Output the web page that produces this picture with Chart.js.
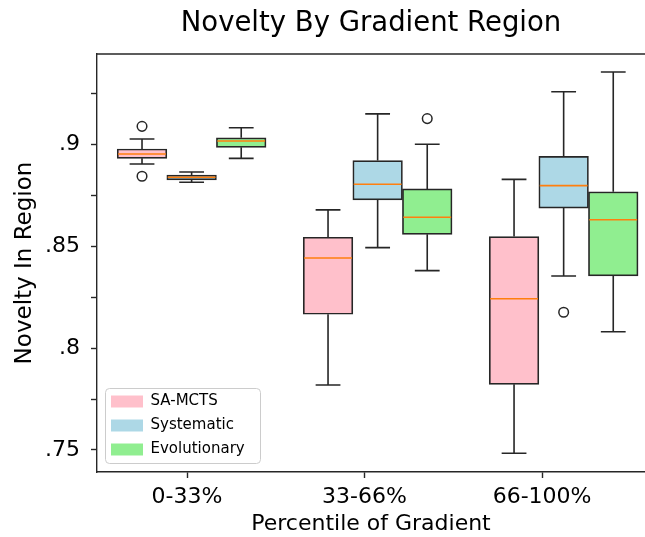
<!DOCTYPE html>
<html>
<head>
<meta charset="utf-8">
<script src="https://cdn.jsdelivr.net/npm/chart.js@4/dist/chart.umd.min.js"></script>
<style>
  html, body { margin: 0; padding: 0; background: #fff; overflow: hidden; }
  canvas { display: block; }
</style>
</head>
<body>
<canvas id="c" width="645" height="537"></canvas>
<script>
// ---- data ----
const categories = ['0-33%', '33-66%', '66-100%'];
const seriesNames = ['SA-MCTS', 'Systematic', 'Evolutionary'];
// five-number summaries per category: [whiskerLow, q1, median, q3, whiskerHigh]
const saMcts = [
  [0.8903, 0.8931, 0.8952, 0.8977, 0.9026],
  [0.7819, 0.8166, 0.8442, 0.8544, 0.8678],
  [0.7484, 0.7822, 0.8242, 0.8547, 0.8828]
];
const systematic = [
  [0.8814, 0.8825, 0.8838, 0.8849, 0.8864],
  [0.8493, 0.8727, 0.8804, 0.8920, 0.9149],
  [0.8354, 0.8687, 0.8797, 0.8941, 0.9258]
];
const evolutionary = [
  [0.8931, 0.8985, 0.9016, 0.9032, 0.9081],
  [0.8380, 0.8558, 0.8642, 0.8781, 0.9000],
  [0.8080, 0.8354, 0.8630, 0.8767, 0.9355]
];
const saMctsOutliers = [[0.9088, 0.8843], [], []];
const systematicOutliers = [[], [], [0.8176]];
const evolutionaryOutliers = [[], [0.9126], []];

// ---- layout / style ----
const groupPositions = [1.4, 2.9, 4.4];
const tickPositions = [1.363, 2.794, 4.226];
const FONT = 'DejaVu Sans';
const EDGE = '#262626';
const MEDIAN = '#ff7f0e';
const fills = ['#FFC0CB', '#ADD8E6', '#90EE90'];
const allStats = [saMcts, systematic, evolutionary];
const allOutliers = [saMctsOutliers, systematicOutliers, evolutionaryOutliers];

Chart.defaults.color = '#000';
Chart.defaults.font.family = FONT;

const datasets = allStats.map((stats, d) => ({
  label: seriesNames[d],
  data: stats.map((s, i) => ({ x: groupPositions[i], y: [s[1], s[3]] })),
  backgroundColor: fills[d],
  borderColor: EDGE,
  borderWidth: 1.7,
  borderSkipped: false,
  barThickness: 49.6
}));

const boxPlugin = {
  id: 'boxWhiskers',
  beforeDraw(chart) {
    const ctx = chart.ctx;
    ctx.save();
    ctx.beginPath();
    ctx.roundRect(105.5, 388.5, 155, 75, 4);
    ctx.fillStyle = 'rgba(255,255,255,0.8)';
    ctx.fill();
    ctx.strokeStyle = '#cccccc';
    ctx.lineWidth = 1;
    ctx.stroke();
    ctx.restore();
  },
  afterLayout(chart) {
    const lg = chart.legend;
    lg.left = 102; lg.top = 385;
    lg.right = lg.left + 160; lg.bottom = lg.top + 200;
    lg.width = 160; lg.height = 200;
  },
  afterDatasetsDraw(chart) {
    const ctx = chart.ctx;
    const ys = chart.scales.y;
    const area = chart.chartArea;
    ctx.save();
    allStats.forEach((stats, d) => {
      const meta = chart.getDatasetMeta(d);
      meta.data.forEach((bar, i) => {
        const { x, width } = bar.getProps(['x', 'width'], true);
        const [lo, q1, med, q3, hi] = stats[i];
        const yLo = ys.getPixelForValue(lo), yQ1 = ys.getPixelForValue(q1);
        const yMed = ys.getPixelForValue(med), yQ3 = ys.getPixelForValue(q3);
        const yHi = ys.getPixelForValue(hi);
        const cap = width / 4;
        ctx.strokeStyle = EDGE;
        ctx.lineWidth = 1.6;
        ctx.beginPath();
        ctx.moveTo(x, yQ3); ctx.lineTo(x, yHi);
        ctx.moveTo(x, yQ1); ctx.lineTo(x, yLo);
        ctx.moveTo(x - cap, yHi); ctx.lineTo(x + cap, yHi);
        ctx.moveTo(x - cap, yLo); ctx.lineTo(x + cap, yLo);
        ctx.stroke();
        ctx.strokeStyle = MEDIAN;
        ctx.lineWidth = 1.6;
        ctx.beginPath();
        ctx.moveTo(x - width / 2 + 0.9, yMed); ctx.lineTo(x + width / 2 - 0.9, yMed);
        ctx.stroke();
        ctx.strokeStyle = EDGE;
        ctx.lineWidth = 1.5;
        allOutliers[d][i].forEach(v => {
          ctx.beginPath();
          ctx.arc(x, ys.getPixelForValue(v), 4.8, 0, Math.PI * 2);
          ctx.stroke();
        });
      });
    });
    ctx.strokeStyle = EDGE;
    ctx.lineWidth = 1.4;
    ctx.beginPath();
    ctx.moveTo(area.left, area.top); ctx.lineTo(area.right, area.top);
    ctx.stroke();
    ctx.restore();
  }
};

new Chart(document.getElementById('c'), {
  type: 'bar',
  data: { datasets },
  options: {
    responsive: false,
    animation: false,
    layout: { padding: 0 },
    plugins: {
      tooltip: { enabled: false },
      title: {
        display: true,
        fullSize: false,
        text: 'Novelty By Gradient Region',
        font: { family: FONT, size: 27.5, weight: 'normal' },
        color: '#000',
        padding: { top: 7, bottom: 14 }
      },
      legend: {
        position: 'chartArea',
        align: 'start',
        labels: {
          boxWidth: 32,
          boxHeight: 12,
          padding: 9,
          color: '#000',
          font: { family: FONT, size: 15 },
          generateLabels(chart) {
            return Chart.defaults.plugins.legend.labels.generateLabels(chart).map(it => {
              it.lineWidth = 0; it.strokeStyle = 'rgba(0,0,0,0)'; return it;
            });
          }
        }
      }
    },
    scales: {
      x: {
        type: 'linear',
        min: 0.637,
        max: 5.056,
        offset: false,
        afterBuildTicks(scale) { scale.ticks = tickPositions.map(v => ({ value: v })); },
        afterFit(scale) { scale.height = 65; },
        ticks: {
          autoSkip: false,
          maxRotation: 0,
          padding: 6,
          color: '#000',
          font: { family: FONT, size: 22 },
          callback: (value, index) => categories[index]
        },
        grid: { offset: false, drawOnChartArea: false, drawTicks: true, tickLength: 6, color: EDGE, tickWidth: 1.4 },
        border: { display: true, color: EDGE, width: 1.4 },
        title: {
          display: true,
          text: 'Percentile of Gradient',
          color: '#000',
          font: { family: FONT, size: 22 },
          padding: { top: 0, bottom: 0 }
        }
      },
      y: {
        type: 'linear',
        min: 0.7392,
        max: 0.9443,
        afterFit(scale) { scale.width = 97; },
        ticks: {
          stepSize: 0.025,
          includeBounds: false,
          padding: 11,
          color: '#000',
          font: { family: FONT, size: 22 },
          callback: (value) => {
            const k = value * 20;
            if (Math.abs(k - Math.round(k)) > 1e-6) return '';
            return String(Math.round(value * 100) / 100).replace(/^0/, '');
          }
        },
        grid: { drawOnChartArea: false, drawTicks: true, tickLength: 6, color: EDGE, tickWidth: 1.4 },
        border: { display: true, color: EDGE, width: 1.4 },
        title: {
          display: true,
          text: 'Novelty In Region',
          color: '#000',
          font: { family: FONT, size: 23 },
          padding: { top: 11, bottom: 0 }
        }
      }
    }
  },
  plugins: [boxPlugin]
});
</script>
</body>
</html>
